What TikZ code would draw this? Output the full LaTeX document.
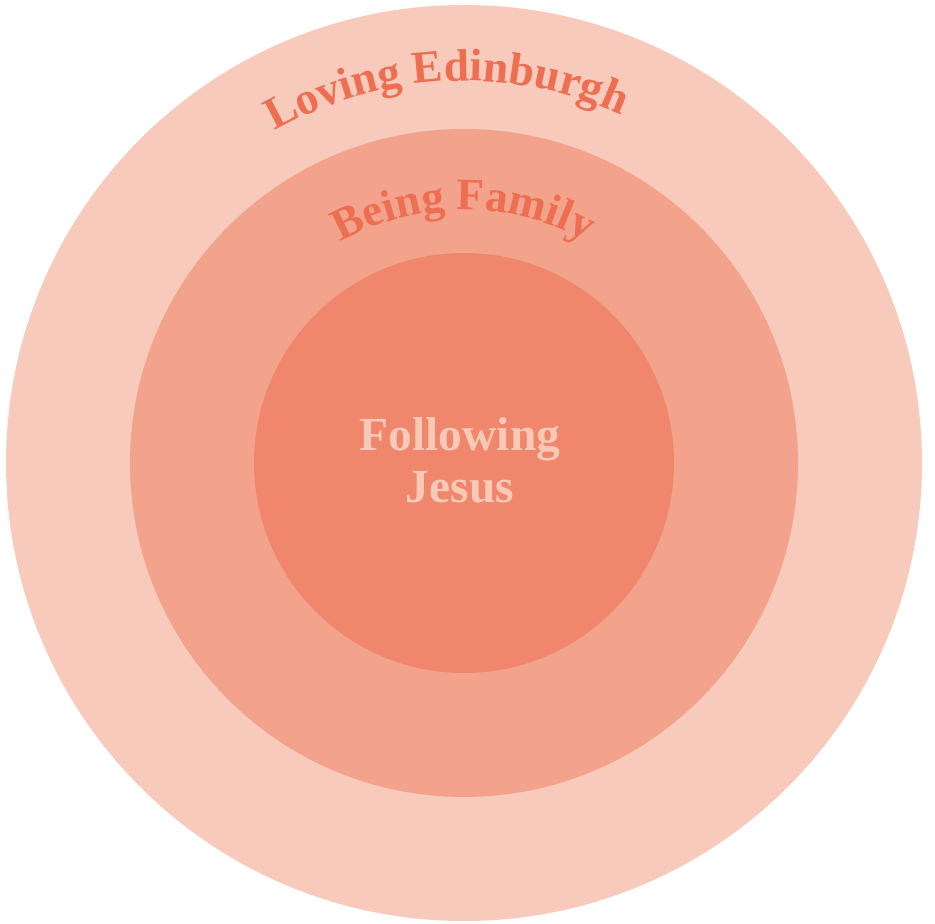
\documentclass[tikz,border=0pt]{standalone}
\usepackage{fontspec}
\setmainfont{Liberation Serif}
\usetikzlibrary{decorations.text}
\definecolor{ringA}{HTML}{F7CABB}
\definecolor{ringB}{HTML}{F3A38C}
\definecolor{ringC}{HTML}{F0876D}
\definecolor{labelred}{HTML}{EE6E52}
\definecolor{labellight}{HTML}{F8C9B7}
\begin{document}
\begin{tikzpicture}[x=1pt,y=1pt,
  ring/.style={circle, inner sep=0pt, outer sep=0pt, draw=none}]
\useasboundingbox (0,0) rectangle (935,924);
\coordinate (c) at (464,461);
\node[ring, fill=ringA, minimum size=916pt] (outer) at (c) {};
\node[ring, fill=ringB, minimum size=668pt] (middle) at (c) {};
\node[ring, fill=ringC, minimum size=420pt] (inner) at (c) {};
\path[decorate, decoration={text along path, text align=center,
  text={|\fontsize{45.5}{50}\selectfont\bfseries\color{labelred}|Loving Edinburgh}}]
  (c) ++(152.7:382) arc[start angle=152.7, end angle=32.7, radius=382];
\path[decorate, decoration={text along path, text align=center,
  text={|\fontsize{45}{50}\selectfont\bfseries\color{labelred}|Being Family}}]
  (c) ++(150.1:253) arc[start angle=150.1, end angle=30.1, radius=253];
\node[align=center, inner sep=0pt, font=\fontsize{47.5}{52}\selectfont\bfseries, text=labellight] (lbl) at (460,464) {Following\\Jesus};
\end{tikzpicture}
\end{document}
